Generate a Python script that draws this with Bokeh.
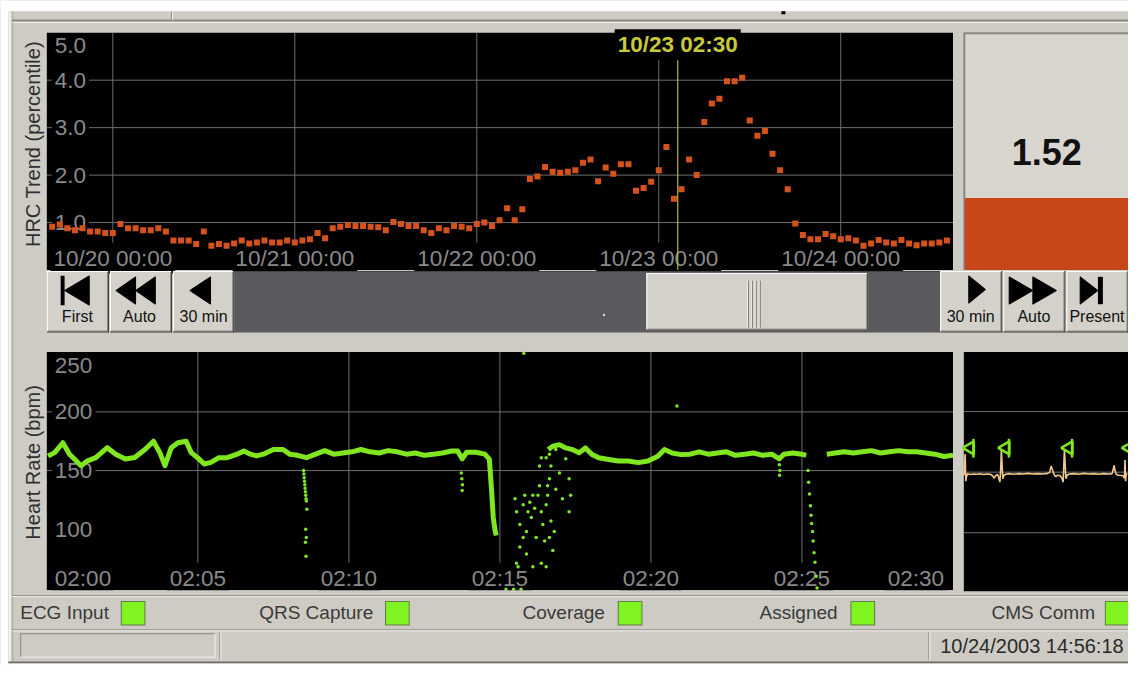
import math
from bokeh.plotting import figure
from bokeh.models import Range1d
from bokeh.core.properties import value
from bokeh.embed import file_html
from bokeh.resources import INLINE

NaN = float("nan")

# ---------------- data ----------------
# HRC trend: one value per hour, hours counted from 10/20 00:00
trend_hours = list(range(-8, 111))
trend_values = [
    0.91, 0.96, 0.88, 0.84, 0.88, 0.81, 0.81, 0.78,
    0.78, 0.97, 0.88, 0.88, 0.84, 0.84, 0.88, 0.81, 0.62, 0.62,
    0.62, 0.55, 0.81, 0.51, 0.55, 0.51, 0.56, 0.62, 0.56, 0.58,
    0.62, 0.58, 0.58, 0.62, 0.58, 0.62, 0.65, 0.78, 0.67, 0.88,
    0.91, 0.95, 0.93, 0.93, 0.91, 0.90, 0.84, 1.01, 0.97, 0.93,
    0.93, 0.84, 0.78, 0.88, 0.84, 0.93, 0.91, 0.88, 0.97, 1.00,
    0.93, 1.05, 1.30, 1.05, 1.28, 1.92, 1.97, 2.17, 2.07, 2.05,
    2.07, 2.10, 2.26, 2.33, 1.87, 2.16, 2.03, 2.23, 2.23, 1.67,
    1.73, 1.86, 2.10, 2.59, 1.50, 1.70, 2.33, 2.00, 3.12, 3.51,
    3.61, 3.98, 3.98, 4.05, 3.15, 2.83, 2.93, 2.45, 2.10, 1.70,
    0.98, 0.74, 0.65, 0.65, 0.76, 0.71, 0.65, 0.67, 0.62, 0.51,
    0.56, 0.63, 0.58, 0.56, 0.63, 0.56, 0.52, 0.56, 0.56, 0.58, 0.62,
]
trend_window = [-8.7, 110.8]
trend_ylim = [0, 5]
trend_xticks = [0, 24, 48, 72, 96]
trend_xtick_labels = ["10/20 00:00", "10/21 00:00", "10/22 00:00", "10/23 00:00", "10/24 00:00"]
trend_yticks = [1, 2, 3, 4, 5]
trend_ytick_labels = ["1.0", "2.0", "3.0", "4.0", "5.0"]
cursor_hour = 74.5
cursor_label = "10/23 02:30"
hrc_now = 1.52
hrc_now_label = "1.52"

# Heart rate: minutes after 02:00
hr_window = [0, 30]
hr_ylim = [48, 251]
hr_xticks = [0, 5, 10, 15, 20, 25, 30]
hr_xtick_labels = ["02:00", "02:05", "02:10", "02:15", "02:20", "02:25", "02:30"]
hr_yticks = [100, 150, 200, 250]
hr_ytick_labels = ["100", "150", "200", "250"]
hr_grid_y = [150, 200]
hr_min = [0.04, 0.26, 0.53, 0.75, 0.97, 1.13, 1.35, 1.62, 2.00, 2.28, 2.60, 2.91, 3.25, 3.53,
          3.74, 3.91, 4.12, 4.34, 4.61, 4.78, 4.99, 5.21, 5.43, 5.70, 5.97, 6.30, 6.52, 6.74,
          6.94, 7.17, 7.50, 7.82, 8.04, 8.30, 8.60, 8.90, 9.20, 9.50, 9.80, 10.10, 10.40,
          10.70, 11.00, 11.30, 11.60, 11.90, 12.20, 12.50, 12.80, 13.10, 13.40, 13.60, 13.75,
          13.90, 14.20, 14.50, 14.65, 14.72, 14.78, 14.84, 14.88, NaN,
          16.60, 16.75, 16.97, 17.18, 17.40, 17.62, 17.83, 18.05, 18.27, 18.60, 18.92, 19.25,
          19.58, 19.90, 20.23, 20.45, 20.70, 21.00, 21.30, 21.60, 21.90, 22.20, 22.50, 22.80,
          23.10, 23.40, 23.70, 24.00, 24.25, 24.40, 24.70, 25.00, 25.14, NaN,
          25.82, 26.10, 26.40, 26.70, 27.00, 27.30, 27.60, 27.90, 28.20, 28.50, 28.80, 29.10,
          29.40, 29.70, 30.00]
hr_bpm = [162.5, 165.3, 173.7, 163.9, 158.3, 154.2, 158.3, 161.1, 169.5, 163.9, 159.8, 161.1,
          168.0, 175.0, 165.3, 154.2, 169.5, 173.7, 175.0, 165.3, 161.0, 155.6, 157.0, 161.0,
          161.0, 164.0, 166.7, 164.0, 162.5, 164.0, 168.0, 168.0, 164.0, 163.0, 161.0, 164.0,
          167.0, 164.0, 165.0, 166.0, 168.0, 166.0, 165.0, 167.0, 166.0, 164.0, 165.0, 163.0,
          164.0, 165.0, 166.7, 166.7, 160.0, 165.6, 165.6, 164.0, 159.8, 134.7, 109.8, 98.9,
          94.7, NaN,
          168.0, 170.7, 172.1, 169.3, 167.9, 165.1, 169.3, 163.7, 160.9, 159.5, 158.1, 158.1,
          156.8, 158.1, 162.3, 167.9, 165.0, 163.6, 164.0, 166.0, 164.0, 165.0, 166.0, 163.0,
          164.0, 165.0, 163.0, 164.0, 160.0, 164.0, 165.0, 164.0, 163.0, NaN,
          164, 165, 166, 165, 166, 167, 165, 166, 167, 166, 166, 165, 164, 162, 163]
hr_dot_min = [8.50, 8.51, 8.52, 8.53, 8.54, 8.55, 8.56, 8.57, 8.58, 8.59, 8.61, 8.57, 8.59, 8.56, 8.58,
              13.72, 13.74, 13.76, 13.75,
              15.50, 15.55, 15.66, 15.77, 15.82, 15.88, 15.93, 15.99, 16.04, 16.09,
              16.15, 16.20, 16.26, 16.31, 16.37, 16.42, 16.48, 16.53, 16.58, 16.64,
              16.69, 16.75, 16.37, 16.09, 15.88, 15.66, 15.60, 16.53, 16.64, 16.80,
              16.85, 16.97, 17.07, 17.18, 17.29, 17.29, 17.34, 16.31, 16.37, 16.53,
              16.64, 16.69, 16.85, 16.58, 15.55, 15.77,
              15.20, 15.45, 15.70, 15.79, 20.86,
              24.25, 24.27, 24.26,
              25.20, 25.22, 25.25, 25.28, 25.30, 25.32, 25.35, 25.37, 25.40, 25.43, 25.47, 25.50]
hr_dot_bpm = [150, 147, 144, 141, 138, 135, 132, 129, 126, 124, 117, 100, 93, 89, 77,
              148, 143, 138, 133,
              126, 115, 104, 121, 129, 98, 115, 123, 110, 129,
              118, 93, 129, 137, 115, 104, 90, 121, 129, 143,
              107, 82, 71, 68, 79, 85, 68, 68, 93, 98,
              134, 148, 126, 160, 143, 115, 129, 154, 161, 161,
              164, 154, 168, 137, 71, 93,
              49, 49, 49, 250, 205,
              155, 150, 146,
              150, 140, 130, 120, 112, 105, 98, 90, 80, 72, 60, 50]

# ECG strip (seconds, mV)
ecg_window = [0, 1.0]
ecg_t = [0.000, 0.004, 0.008, 0.012, 0.016, 0.022, 0.04, 0.06, 0.08, 0.10, 0.12, 0.14, 0.16,
         0.175, 0.185, 0.195, 0.205, 0.213, 0.219, 0.224, 0.228, 0.232, 0.237, 0.243, 0.26,
         0.28, 0.30, 0.33, 0.36, 0.39, 0.42, 0.45, 0.48, 0.51, 0.522, 0.530, 0.538, 0.548,
         0.558, 0.570, 0.585, 0.597, 0.603, 0.607, 0.611, 0.615, 0.620, 0.627, 0.64, 0.67,
         0.70, 0.73, 0.76, 0.79, 0.82, 0.85, 0.88, 0.90, 0.906, 0.912, 0.918, 0.926, 0.94,
         0.955, 0.968, 0.975, 0.979, 0.982, 0.986, 0.992]
ecg_mv = [-0.10, 0.20, 0.60, -0.30, -0.15, -0.05, -0.08, -0.06, -0.07, -0.05, -0.08, -0.06, -0.07,
          -0.12, -0.20, -0.10, -0.08, -0.20, -0.33, 0.10, 0.74, 0.25, -0.22, -0.10, -0.06,
          -0.05, -0.07, -0.05, -0.06, -0.04, -0.06, -0.05, -0.06, -0.04, 0.00, 0.20, 0.08, -0.08,
          -0.15, -0.10, -0.12, -0.22, -0.33, 0.20, 0.74, 0.30, -0.22, -0.10, -0.06, -0.05,
          -0.07, -0.04, -0.06, -0.05, -0.07, -0.05, -0.06, -0.05, 0.06, 0.22, 0.06, -0.08, -0.10,
          -0.11, -0.13, -0.20, 0.40, -0.30, -0.05, -0.08]
ecg_beats = [0.012, 0.228, 0.611, 0.979]
ecg_grid = [2, 0, -2]

button_labels = ["First", "Auto", "30 min", "30 min", "Auto", "Present"]
status_labels = ["ECG Input", "QRS Capture", "Coverage", "Assigned", "CMS Comm"]
clock_text = "10/24/2003 14:56:18"

# ---------------- styling ----------------
FONT = value("Liberation Sans")
GRAY = "#cdcbc3"
BTN = "#d3d1c9"
SHADOW = "#8a8882"
HILITE = "#f3f2ee"
GRID = "#6f6f6f"
TICK = "#8a8a8a"
ORANGE = "#d4531d"
GREEN = "#7fe620"
TICK_SIZE = 22.5

# the whole 1144 x 681 screen, squeezed into the 1128 x 665 drawing area
SCREEN_W, SCREEN_H = 1144, 681
p = figure(width=1128, height=665, x_range=Range1d(0, SCREEN_W), y_range=Range1d(-SCREEN_H, 0),
           x_axis_type=None, y_axis_type=None, toolbar_location=None,
           output_backend="svg", min_border=0)
p.grid.visible = False
p.outline_line_color = None
p.background_fill_color = GRAY
p.border_fill_color = GRAY


def lin_range(v0, p0, v1, p1, lo, hi):
    s = (v1 - v0) / (p1 - p0)
    return Range1d(v0 + (lo - p0) * s, v0 + (hi - p0) * s)


# chart frames in screen pixels
p.extra_x_ranges = {
    "trend_x": lin_range(trend_window[0], 47, trend_window[1], 966, 0, SCREEN_W),
    "hr_x": lin_range(hr_window[0], 47, hr_window[1], 966, 0, SCREEN_W),
    "ecg_x": lin_range(ecg_window[0], 977, ecg_window[1], 1144, 0, SCREEN_W),
}
p.extra_y_ranges = {
    "trend_y": lin_range(trend_ylim[0], 276, trend_ylim[1], 33, SCREEN_H, 0),
    "hr_y": lin_range(hr_ylim[0], 604, hr_ylim[1], 360, SCREEN_H, 0),
    "ecg_y": lin_range(0, 483, 2, 421, SCREEN_H, 0),
}


def rect(x0, y0, x1, y1, color):
    p.quad(left=x0, right=x1, top=-y0, bottom=-y1, fill_color=color, line_color=None)


def hline(x0, x1, y, color, w=1):
    p.segment(x0=[x0], y0=[-y], x1=[x1], y1=[-y], line_color=color, line_width=w)


def vline(x, y0, y1, color, w=1):
    p.segment(x0=[x], y0=[-y0], x1=[x], y1=[-y1], line_color=color, line_width=w)


def tri(pts, color="black"):
    p.patch(x=[q[0] for q in pts], y=[-q[1] for q in pts], fill_color=color, line_color=color)


def text(xs, ys, ts, size, color, align="left", baseline="middle", bold=False, angle=0.0,
         bg=None, pad=0, xoff=0, yoff=0, xr="default", yr="default"):
    p.text(x=xs, y=ys, text=ts, text_font=FONT, text_font_size=f"{size}px", text_color=color,
           text_align=align, text_baseline=baseline,
           text_font_style="bold" if bold else "normal", angle=angle,
           background_fill_color=bg, padding=pad, x_offset=xoff, y_offset=yoff,
           x_range_name=xr, y_range_name=yr)


def label(x, y, s, size, color, align="left", bold=False, angle=0.0):
    text([x], [-y], [s], size, color, align=align, bold=bold, angle=angle)


def button(x0, x1, y0=277, y1=340):
    rect(x0, y0, x1, y1, BTN)
    hline(x0, x1 - 1, y0 + 0.5, "white")
    vline(x0 + 0.5, y0, y1 - 1, "white")
    hline(x0 + 1, x1 - 1, y1 - 1.5, SHADOW)
    vline(x1 - 1.5, y0 + 1, y1 - 1, SHADOW)
    hline(x0, x1, y1 - 0.5, "#3c3c3c")
    vline(x1 - 0.5, y0, y1, "#3c3c3c")


# ---------------- window chrome ----------------
rect(0, 0, SCREEN_W, 11, "white")
rect(0, 0, 8, SCREEN_H, "white")
vline(9.5, 11, 677, HILITE, 2)
vline(12.5, 11, 677, "#a9a7a0")
hline(12, SCREEN_W, 20.5, SHADOW, 2)
hline(12, SCREEN_W, 22.5, HILITE)
vline(173.5, 11, 20, SHADOW)
vline(174.5, 11, 20, HILITE)
rect(792, 11, 796, 14, "black")

# ---------------- HRC trend chart ----------------
TX = dict(xr="trend_x", yr="trend_y")
rect(47, 33, 966, 276, "black")
gy = [t for t in trend_yticks if t < trend_ylim[1]]
p.segment(x0=[trend_window[0]] * len(gy), x1=[trend_window[1]] * len(gy), y0=gy, y1=gy,
          line_color=GRID, line_width=1, x_range_name="trend_x", y_range_name="trend_y")
p.segment(x0=trend_xticks, x1=trend_xticks, y0=[trend_ylim[0]] * len(trend_xticks),
          y1=[trend_ylim[1]] * len(trend_xticks), line_color=GRID, line_width=1,
          x_range_name="trend_x", y_range_name="trend_y")
text([trend_window[0]] * len(trend_yticks), trend_yticks, trend_ytick_labels, TICK_SIZE, TICK,
     bg="black", pad=3, xoff=5, yoff=[13 if t == trend_ylim[1] else 0 for t in trend_yticks], **TX)
text(trend_xticks, [trend_ylim[0]] * len(trend_xticks), trend_xtick_labels, TICK_SIZE, TICK,
     align="center", bg="black", pad=3, yoff=-12, **TX)
p.scatter(x=trend_hours, y=trend_values, marker="square", size=6, fill_color=ORANGE,
          line_color=None, x_range_name="trend_x", y_range_name="trend_y")
p.segment(x0=[cursor_hour], x1=[cursor_hour], y0=[trend_ylim[0]], y1=[trend_ylim[1]],
          line_color="#b8b832", line_width=1.2, x_range_name="trend_x", y_range_name="trend_y")
text([cursor_hour], [trend_ylim[1]], [cursor_label], TICK_SIZE, "#c9c93c", align="center",
     bold=True, bg="black", pad=3, yoff=12, **TX)

# current value panel
rect(977, 33, 1144, 276, "#d8d6cf")
vline(977.5, 33, 276, SHADOW, 2)
hline(977, 1144, 33.5, SHADOW, 2)
p.quad(left=[978], right=[1144], bottom=[trend_ylim[0]], top=[hrc_now], fill_color="#c9461a",
       line_color=None, y_range_name="trend_y")
label(1061, 155, hrc_now_label, 36, "#111111", align="center", bold=True)

# ---------------- navigation buttons ----------------
button(47, 110)
button(111, 174)
button(175, 237)
rect(237, 277, 953, 340, "#5a595e")
hline(237, 953, 277.5, "#45444a")
button(655, 880, 279, 338)
for gx in (757, 761, 765, 769):
    vline(gx + 0.5, 287, 335, "white")
    vline(gx + 1.5, 287, 335, "#77756f")
rect(611, 321, 613, 323, "#e8e8e8")
button(953, 1016)
button(1017, 1080)
button(1081, 1144)
# icons
rect(61, 282, 65, 312, "black")
tri([(65, 297), (90, 282), (90, 312)])
tri([(117, 297), (137, 283), (137, 311)])
tri([(137, 297), (157, 283), (157, 311)])
tri([(192, 297), (213, 283), (213, 311)])
tri([(999, 296), (982, 282), (982, 310)])
tri([(1047, 297), (1023, 283), (1023, 311)])
tri([(1071, 297), (1047, 283), (1047, 311)])
tri([(1113, 297), (1095, 283), (1095, 311)])
rect(1113, 283, 1118, 311, "black")
for cx, s in zip([78, 141, 206, 984, 1048, 1112], button_labels):
    label(cx, 324, s, 16, "#111111", align="center")

# ---------------- heart-rate chart ----------------
HX = dict(xr="hr_x", yr="hr_y")
rect(47, 360, 966, 604, "black")
vx = hr_xticks[1:-1]
p.segment(x0=vx, x1=vx, y0=[hr_ylim[0]] * len(vx), y1=[hr_ylim[1]] * len(vx),
          line_color=GRID, line_width=1, x_range_name="hr_x", y_range_name="hr_y")
p.segment(x0=[hr_window[0]] * len(hr_grid_y), x1=[hr_window[1]] * len(hr_grid_y),
          y0=hr_grid_y, y1=hr_grid_y, line_color=GRID, line_width=1,
          x_range_name="hr_x", y_range_name="hr_y")
text([hr_window[0]] * len(hr_yticks), hr_yticks, hr_ytick_labels, TICK_SIZE, TICK, bg="black",
     pad=3, xoff=5, yoff=[12 if t >= 250 else 0 for t in hr_yticks], **HX)
text(hr_xticks[:1], [hr_ylim[0]], hr_xtick_labels[:1], TICK_SIZE, TICK, bg="black", pad=3,
     xoff=5, yoff=-12, **HX)
text(hr_xticks[1:-1], [hr_ylim[0]] * (len(hr_xticks) - 2), hr_xtick_labels[1:-1], TICK_SIZE,
     TICK, align="center", bg="black", pad=3, yoff=-12, **HX)
text(hr_xticks[-1:], [hr_ylim[0]], hr_xtick_labels[-1:], TICK_SIZE, TICK, align="right",
     bg="black", pad=3, xoff=-6, yoff=-12, **HX)
p.line(hr_min, hr_bpm, line_color=GREEN, line_width=5, line_join="round",
       x_range_name="hr_x", y_range_name="hr_y")
p.scatter(hr_dot_min, hr_dot_bpm, marker="circle", size=3.5, fill_color=GREEN, line_color=None,
          x_range_name="hr_x", y_range_name="hr_y")
rect(40, 604, 970, 609, GRAY)   # keep label backgrounds inside the chart frame

# ---------------- ECG strip ----------------
rect(977, 360, 1144, 605, "black")
p.segment(x0=[ecg_window[0]] * 3, x1=[ecg_window[1]] * 3, y0=ecg_grid, y1=ecg_grid,
          line_color=GRID, line_width=1, x_range_name="ecg_x", y_range_name="ecg_y")
p.line(ecg_t, ecg_mv, line_color="#f0c88e", line_width=1.6, x_range_name="ecg_x",
       y_range_name="ecg_y")
p.scatter([b + 0.026 for b in ecg_beats], [0.80] * len(ecg_beats), marker="triangle",
          angle=math.pi / 2, size=13, fill_alpha=0, line_color=GREEN, line_width=2.5,
          x_range_name="ecg_x", y_range_name="ecg_y")
p.segment(x0=[b + 0.046 for b in ecg_beats], x1=[b + 0.046 for b in ecg_beats],
          y0=[0.48] * len(ecg_beats), y1=[1.10] * len(ecg_beats), line_color=GREEN,
          line_width=2.5, x_range_name="ecg_x", y_range_name="ecg_y")

# ---------------- status row ----------------
hline(12, SCREEN_W, 609.5, SHADOW)
hline(12, SCREEN_W, 610.5, HILITE)
status_x = [(20, "left", 122), (378, "right", 390), (613, "right", 626), (849, "right", 862),
            (1110, "right", 1120)]
for (tx, al, bx), s in zip(status_x, status_labels):
    label(tx, 627, s, 19, "#3a3a3a", align=al)
    rect(bx, 615, bx + 25, 640, "#5f7a48")
    rect(bx + 1, 616, bx + 24, 639, "#7ff420")
hline(12, SCREEN_W, 644.5, SHADOW)
hline(12, SCREEN_W, 645.5, HILITE)
hline(20, 218, 648.5, SHADOW)
vline(20.5, 648, 673, SHADOW)
hline(20, 218, 672.5, HILITE)
vline(217.5, 648, 673, HILITE)
vline(222.5, 647, 675, SHADOW)
vline(223.5, 647, 675, HILITE)
vline(941.5, 647, 675, SHADOW)
vline(942.5, 647, 675, HILITE)
label(953, 661, clock_text, 20, "#2a2a2a")
hline(8, SCREEN_W, 678, "#6e6c68", 2)
rect(8, 679, SCREEN_W, SCREEN_H, "white")

# axis titles
label(33, 147, "HRC Trend (percentile)", 20, "#303030", align="center", angle=math.pi / 2)
label(33, 473, "Heart Rate (bpm)", 20, "#303030", align="center", angle=math.pi / 2)

open("out.html", "w").write(file_html(p, INLINE))
